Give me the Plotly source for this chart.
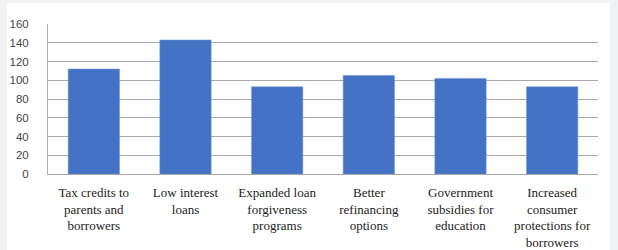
import plotly.graph_objects as go

categories = [
    "Tax credits to<br>parents and<br>borrowers",
    "Low interest<br>loans",
    "Expanded loan<br>forgiveness<br>programs",
    "Better<br>refinancing<br>options",
    "Government<br>subsidies for<br>education",
    "Increased<br>consumer<br>protections for<br>borrowers",
]
values = [112, 143, 93, 105, 102, 93]
y_ticks = [0, 20, 40, 60, 80, 100, 120, 140, 160]

L, R, T, B = 48, 20, 24, 76
W, H = 618, 250
pw, ph = W - L - R, H - T - B

fig = go.Figure(go.Bar(
    x=categories, y=values,
    marker=dict(color="#4472C4", line=dict(color="#6f93d6", width=0.5)),
    hoverinfo="skip",
))

fig.update_layout(
    width=W, height=H,
    margin=dict(l=L, r=R, t=T, b=B),
    paper_bgcolor="#f1f2f4",
    plot_bgcolor="white",
    bargap=0.44,
    showlegend=False,
    shapes=[dict(
        type="rect", xref="paper", yref="paper", layer="below",
        x0=(7 - L) / pw, x1=(610 - L) / pw,
        y0=-(H - T - ph) / ph - 0.01, y1=1 + (T - 3) / ph,
        fillcolor="white", line=dict(width=0),
    )],
)
fig.update_xaxes(
    tickfont=dict(family="'Liberation Serif', 'DejaVu Serif'", size=13, color="#222222"),
    showline=True, linecolor="#a6a6a6", linewidth=1,
    ticks="", tickangle=0, automargin=False, ticklabelstandoff=6,
)
fig.update_yaxes(
    range=[0, 160], tickvals=y_ticks,
    tickfont=dict(family="'Liberation Sans', Arial, sans-serif", size=11.5, color="#444444"),
    showgrid=True, gridcolor="#a9a9a9", gridwidth=1,
    showline=True, linecolor="#b0b0b0", linewidth=1,
    zeroline=False, ticks="", ticklabelstandoff=16, automargin=False,
)

fig.write_html(
    "out.html",
    config={"displayModeBar": False},
    post_script="document.body.style.margin='0';document.body.style.background='#f1f2f4';",
)
